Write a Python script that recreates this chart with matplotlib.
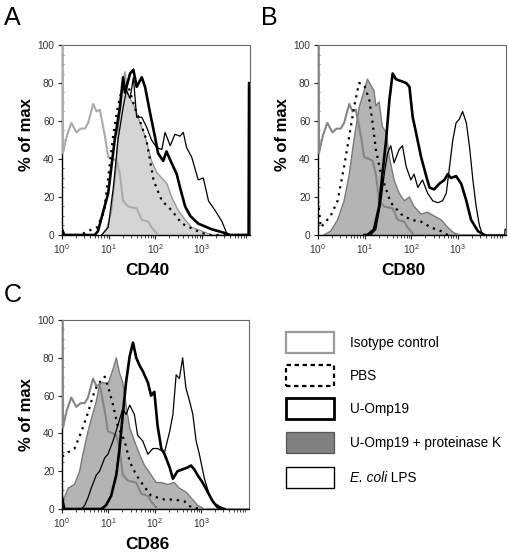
import numpy as np
import matplotlib
matplotlib.use("Agg")
import matplotlib.pyplot as plt
from matplotlib.patches import Rectangle
from matplotlib.text import Annotation
from matplotlib.ticker import FixedLocator, MultipleLocator, LogFormatterSciNotation

plt.rcParams['font.family'] = ['Liberation Sans', 'DejaVu Sans']
plt.rcParams['mathtext.fontset'] = 'custom'
plt.rcParams['mathtext.rm'] = 'Liberation Sans'
plt.rcParams['mathtext.it'] = 'Liberation Sans:italic'
plt.rcParams['mathtext.bf'] = 'Liberation Sans:bold'

# ---------------- data (x given as log10 of fluorescence intensity) ----------------
series_names = ["Isotype control", "PBS", "U-Omp19", "U-Omp19 + proteinase K", "E. coli LPS"]
markers = ["CD40", "CD80", "CD86"]
panel_letters = ["A", "B", "C"]
y_ticks = [0, 20, 40, 60, 80, 100]
x_tick_decades = [0, 1, 2, 3]

iso_log = [0.0, 0.015, 0.02, 0.1, 0.2, 0.31, 0.4, 0.49, 0.56, 0.67, 0.74, 0.81, 0.85, 0.92, 0.99,
           1.1, 1.17, 1.24, 1.31, 1.42, 1.6, 1.71, 1.85, 1.92, 2.06, 4.03]
iso_val = [100, 100, 43, 52, 59, 54, 56, 56, 59, 69, 65, 66, 61, 52, 41,
           40, 39, 32, 18, 15, 14, 8, 7, 4, 0, 0]

# CD40
pbsA_log = [0.0, 0.4, 0.55, 0.75, 0.9, 1.0, 1.1, 1.2, 1.3, 1.4, 1.5, 1.56, 1.7, 1.81, 1.96, 2.14,
            2.35, 2.57, 2.78, 3.0, 3.2, 4.03]
pbsA_val = [0, 0, 2, 4, 12, 32, 53, 68, 78, 80, 72, 67, 58, 50, 29, 18, 13, 6, 3.5, 1, 0, 0]
pkA_log = [0.85, 0.95, 1.05, 1.15, 1.22, 1.3, 1.35, 1.42, 1.53, 1.63, 1.78, 1.92, 2.03, 2.14, 2.25,
           2.35, 2.49, 2.64, 2.78, 3.0, 3.2]
pkA_val = [0, 3, 11, 32, 60, 80, 86, 73, 69, 62, 52, 39, 33, 30, 27, 20, 13, 8, 4, 2, 0]
uA_log = [0.0, 0.05, 0.7, 0.77, 0.99, 1.13, 1.24, 1.31, 1.35, 1.46, 1.53, 1.6, 1.71, 1.78, 1.89,
          1.99, 2.06, 2.17, 2.24, 2.31, 2.46, 2.53, 2.64, 2.75, 2.92, 3.21, 3.5, 3.6, 4.0, 4.01, 4.03]
uA_val = [3, 0, 0, 2, 22, 50, 67, 83, 75, 85, 87, 78, 83, 78, 64,
          52, 43, 39, 44, 40, 32, 25, 15, 10, 6, 3, 1, 0, 0, 80, 80]
lA_log = [0.85, 0.99, 1.1, 1.2, 1.31, 1.38, 1.46, 1.53, 1.6, 1.71, 1.81, 1.92, 2.03, 2.14, 2.21,
          2.32, 2.42, 2.53, 2.6, 2.67, 2.78, 2.92, 3.03, 3.14, 3.28, 3.43, 3.53, 3.6]
lA_val = [0, 4, 25, 50, 67, 76, 72, 83, 62, 62, 57, 50, 46, 45, 54,
          47, 53, 52, 54, 46, 41, 29, 30, 18, 13, 7, 1, 0]

# CD80
pbsB_log = [0.0, 0.06, 0.13, 0.27, 0.42, 0.56, 0.67, 0.77, 0.88, 0.99, 1.1, 1.17, 1.24, 1.35,
            1.46, 1.56, 1.78, 1.99, 2.21, 2.42, 2.64, 2.78]
pbsB_val = [18, 4, 6, 10, 18, 36, 52, 67, 80, 79, 71, 59, 45, 32, 24, 17, 11, 8, 7, 4, 2, 0]
pkB_log = [0.13, 0.27, 0.42, 0.56, 0.67, 0.77, 0.88, 0.99, 1.06, 1.13, 1.2, 1.24, 1.31, 1.38,
           1.46, 1.53, 1.63, 1.74, 1.85, 1.96, 2.06, 2.21, 2.35, 2.49, 2.64, 2.78, 2.92, 3.07]
pkB_val = [0, 2, 8, 18, 32, 50, 67, 76, 82, 79, 76, 68, 70, 57, 54, 41, 29, 22, 18, 20, 15, 11,
           12, 10, 8, 4, 1, 0]
uB_log = [1.0, 1.06, 1.2, 1.31, 1.38, 1.46, 1.53, 1.6, 1.67, 1.78, 1.89, 1.96, 2.03, 2.1, 2.21,
          2.32, 2.39, 2.49, 2.6, 2.71, 2.78, 2.85, 2.96, 3.07, 3.18, 3.28, 3.43, 3.57]
uB_val = [0, 0, 3, 15, 32, 50, 71, 85, 82, 81, 80, 78, 62, 54, 41, 31, 25, 24, 27, 29, 32, 30,
          31, 27, 18, 8, 2, 0]
lB_log = [1.13, 1.24, 1.35, 1.42, 1.49, 1.56, 1.63, 1.74, 1.81, 1.89, 1.99, 2.06, 2.14, 2.24,
          2.35, 2.46, 2.57, 2.67, 2.75, 2.82, 2.89, 2.96, 3.03, 3.1, 3.18, 3.25, 3.32, 3.39, 3.46,
          3.53, 4.0, 4.01, 4.03]
lB_val = [0, 3, 18, 32, 43, 47, 38, 45, 47, 36, 29, 32, 25, 29, 22, 18, 17, 18, 22, 36, 50, 59,
          61, 65, 59, 46, 29, 15, 5, 0, 0, 3, 3]

# CD86
pbsC_log = [0.0, 0.02, 0.13, 0.27, 0.42, 0.56, 0.67, 0.77, 0.92, 0.99, 1.1, 1.2, 1.35, 1.46, 1.6,
            1.74, 1.92, 2.21, 2.42, 2.64, 2.78, 2.99]
pbsC_val = [28, 28, 30, 32, 41, 51, 60, 66, 70, 65, 55, 44, 36, 25, 18, 13, 7, 5, 5, 4, 1, 0]
pkC_log = [0.0, 0.02, 0.13, 0.27, 0.38, 0.45, 0.56, 0.67, 0.74, 0.81, 0.88, 0.99, 1.1, 1.17, 1.24,
           1.31, 1.38, 1.46, 1.56, 1.67, 1.78, 1.92, 2.03, 2.14, 2.28, 2.42, 2.53, 2.67, 2.78,
           2.92, 3.07]
pkC_val = [10, 4, 11, 13, 20, 29, 41, 51, 57, 66, 67, 66, 74, 80, 72, 67, 55, 43, 36, 29, 23, 18,
           14, 14, 13, 14, 11, 9, 6, 2, 0]
uC_log = [0.0, 0.05, 0.85, 0.95, 1.06, 1.17, 1.24, 1.31, 1.38, 1.46, 1.53, 1.6, 1.67, 1.74, 1.85,
          1.92, 1.99, 2.06, 2.14, 2.21, 2.32, 2.39, 2.49, 2.6, 2.71, 2.78, 2.85, 2.92, 3.03, 3.14,
          3.25, 3.35, 3.5]
uC_val = [6, 0, 0, 2, 7, 18, 32, 50, 67, 81, 88, 80, 76, 73, 67, 60, 62, 44, 32, 29, 22, 16, 20,
          21, 22, 23, 21, 18, 14, 9, 4, 1, 0]
lC_log = [0.42, 0.49, 0.56, 0.63, 0.74, 0.81, 0.92, 0.99, 1.1, 1.2, 1.31, 1.38, 1.46, 1.56, 1.63,
          1.74, 1.85, 1.96, 2.06, 2.21, 2.32, 2.39, 2.46, 2.53, 2.6, 2.67, 2.75, 2.82, 2.89, 2.96,
          3.07, 3.18, 3.28, 3.43, 3.5]
lC_val = [0, 2, 6, 11, 18, 20, 27, 29, 36, 44, 53, 50, 55, 50, 39, 36, 29, 32, 32, 30, 41, 50,
          71, 69, 80, 64, 57, 50, 36, 29, 16, 7, 3, 1, 0]

panels = [
    dict(iso=(iso_log, iso_val), pbs=(pbsA_log, pbsA_val), pk=(pkA_log, pkA_val),
         u=(uA_log, uA_val), lps=(lA_log, lA_val)),
    dict(iso=(iso_log, iso_val), pbs=(pbsB_log, pbsB_val), pk=(pkB_log, pkB_val),
         u=(uB_log, uB_val), lps=(lB_log, lB_val)),
    dict(iso=(iso_log, iso_val), pbs=(pbsC_log, pbsC_val), pk=(pkC_log, pkC_val),
         u=(uC_log, uC_val), lps=(lC_log, lC_val)),
]

# ---------------- styling ----------------
W, H = 510, 558
fig = plt.figure(figsize=(W / 100, H / 100), dpi=100)

def fx(px):
    return px / W

def fy(px):
    return 1 - px / H

# axes boxes in pixels: left, top, right, bottom
boxes = [(62, 45, 250, 235), (318, 45, 506, 235), (62, 320, 249, 509)]
iso_colors = ["#ababab", "#858585", "#858585"]
pk_fill = ["#d5d5d5", "#b4b4b4", "#b4b4b4"]
pk_edge = ["#9a9a9a", "#7a7a7a", "#7a7a7a"]
ylabel_y = [0.53, 0.53, 0.5]
letter_pos = [(4, 25), (261, 25), (4, 302)]
XMAX = 10 ** 4.03

for i, (l, t, r, b) in enumerate(boxes):
    ax = fig.add_axes([fx(l), fy(b), fx(r) - fx(l), fy(t) - fy(b)])
    d = panels[i]
    x = lambda key: np.power(10.0, np.array(d[key][0]))

    ax.fill_between(x('pk'), d['pk'][1], 0, facecolor=pk_fill[i], edgecolor='none', zorder=1)
    ax.plot(x('pk'), d['pk'][1], color=pk_edge[i], lw=1.0, zorder=2)
    ax.plot(x('iso'), d['iso'][1], color=iso_colors[i], lw=1.5, zorder=3)
    ax.plot(x('pbs'), d['pbs'][1], color='black', lw=1.6, ls=(0, (1, 2.2)), zorder=4)
    ax.plot(x('lps'), d['lps'][1], color='black', lw=0.9, zorder=5)
    ax.plot(x('u'), d['u'][1], color='black', lw=1.9, zorder=6)

    ax.set_xscale('log')
    ax.set_xlim(1, XMAX)
    ax.set_ylim(0, 100)
    ax.xaxis.set_major_locator(FixedLocator([10.0 ** k for k in x_tick_decades]))
    ax.xaxis.set_major_formatter(LogFormatterSciNotation())
    minors = [m * 10.0 ** k for k in range(4) for m in range(2, 10)]
    ax.xaxis.set_minor_locator(FixedLocator(minors))
    ax.yaxis.set_major_locator(FixedLocator(y_ticks))
    ax.yaxis.set_minor_locator(MultipleLocator(5))
    ax.tick_params(axis='both', which='major', labelsize=7.3, length=3, width=0.8,
                   direction='out', pad=2.5, labelcolor='#333333', color='#222222')
    ax.tick_params(axis='x', which='minor', length=2, width=0.6, direction='out', color='#222222')
    ax.tick_params(axis='y', which='minor', length=1.5, width=0.6, direction='in', color='#444444')
    ax.tick_params(top=False, right=False, which='both')

    for s in ['left', 'bottom']:
        ax.spines[s].set_color('black')
        ax.spines[s].set_linewidth(1.0)
    for s in ['top', 'right']:
        ax.spines[s].set_color('#6a6a6a')
        ax.spines[s].set_linewidth(0.8)

    ax.text(0.455, -0.147, markers[i], transform=ax.transAxes, ha='center', va='top',
            fontsize=12.5, fontweight='bold')
    ax.text(-0.19, ylabel_y[i], "% of max", transform=ax.transAxes, rotation=90,
            ha='center', va='center', fontsize=12, fontweight='bold')
    lx, ly = letter_pos[i]
    fig.text(fx(lx), fy(ly), panel_letters[i], fontsize=18, va='baseline', ha='left')

# ---------------- legend (keys drawn as boxes in figure space) ----------------
key_styles = [
    dict(facecolor='white', edgecolor='#9a9a9a', linewidth=1.6),
    dict(facecolor='white', edgecolor='black', linewidth=1.6, linestyle=(0, (2, 1.6))),
    dict(facecolor='white', edgecolor='black', linewidth=2.0),
    dict(facecolor='#808080', edgecolor='#555555', linewidth=0.9),
    dict(facecolor='white', edgecolor='black', linewidth=1.0),
]
row_tops = [332, 365, 398, 432, 467]
box_h = 21
for name, top, st in zip(series_names, row_tops, key_styles):
    rect = Rectangle((fx(286), fy(top + box_h)), fx(334) - fx(286), box_h / H,
                     transform=fig.transFigure, **st)
    fig.add_artist(rect)
    ty = fy(top + box_h / 2 + 0.5)
    if name.startswith("E. coli"):
        t1 = fig.text(fx(350), ty, "E. coli", fontsize=9.8, ha='left', va='center',
                      fontstyle='italic')
        t2 = Annotation(name[len("E. coli"):], xy=(1, 0.5), xycoords=t1,
                        fontsize=9.8, ha='left', va='center')
        fig.add_artist(t2)
    else:
        fig.text(fx(350), ty, name, fontsize=9.8, ha='left', va='center')

fig.savefig("out.png", dpi=100)
